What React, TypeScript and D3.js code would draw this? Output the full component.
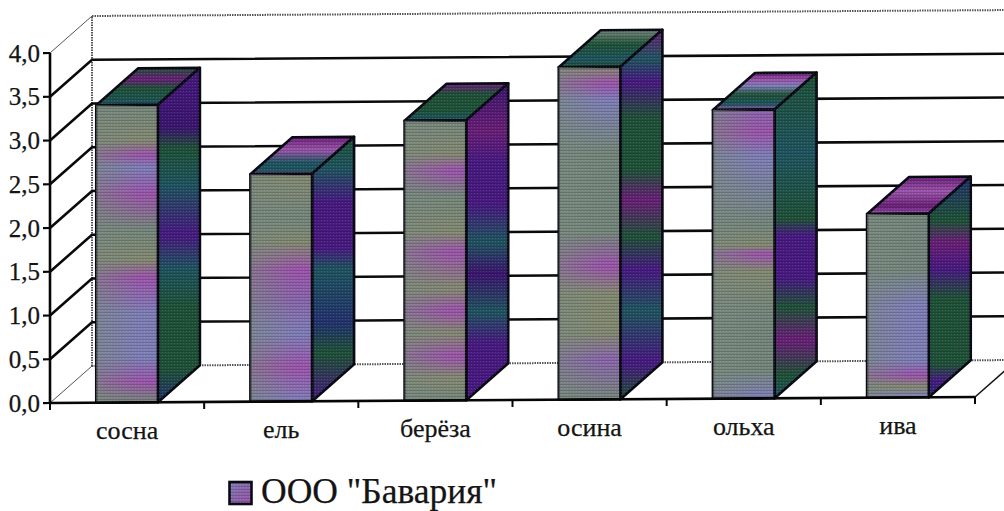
import React from "react";
import * as d3 from "d3";

const categories = ["сосна", "ель", "берёза", "осина", "ольха", "ива"];
const values = [3.4, 2.6, 3.2, 3.8, 3.3, 2.1];
const tickValues = [0, 0.5, 1, 1.5, 2, 2.5, 3, 3.5, 4];
const seriesName = 'ООО "Бавария"';

const G = "#75877c", G2 = "#838a72", M = "#9c55ac", V = "#7f7fb8", P = "#8a66ac";
const D = "#481a82", D2 = "#3c1670", T = "#1f5560", E = "#1f5238", B = "#23336f", R = "#6a1f78";

const frontStops = [
  [[0, G], [0.12, G2], [0.17, M], [0.21, V], [0.3, M], [0.42, G], [0.52, G2], [0.58, M], [0.7, V], [0.85, V], [0.93, M], [1, G]],
  [[0, G2], [0.2, G], [0.3, G2], [0.42, M], [0.55, P], [0.7, V], [0.85, M], [1, V]],
  [[0, G], [0.12, G2], [0.18, M], [0.27, G], [0.4, G2], [0.47, M], [0.6, G2], [0.68, M], [0.76, G2], [0.84, M], [0.92, G2], [1, G]],
  [[0, G2], [0.05, M], [0.1, V], [0.25, G], [0.5, G], [0.6, M], [0.68, G2], [0.8, G2], [0.88, P], [1, G]],
  [[0, P], [0.08, M], [0.16, V], [0.4, G], [0.47, G2], [0.5, M], [0.56, G2], [0.7, G], [0.9, G], [1, V]],
  [[0, G], [0.3, G], [0.5, V], [0.8, V], [0.88, M], [0.94, G2], [1, V]],
];
const sideStops = [
  [[0, D], [0.18, D2], [0.24, E], [0.35, T], [0.5, D], [0.6, T], [0.72, E], [0.9, E], [1, B]],
  [[0, E], [0.12, T], [0.25, D], [0.42, D], [0.5, T], [0.7, B], [0.82, E], [1, D]],
  [[0, D2], [0.15, R], [0.25, D], [0.38, D], [0.5, T], [0.6, D2], [0.72, T], [0.82, D], [1, D]],
  [[0, R], [0.08, T], [0.14, D], [0.24, E], [0.38, E], [0.46, R], [0.56, E], [0.65, D], [0.76, T], [0.9, D], [1, E]],
  [[0, E], [0.25, T], [0.45, E], [0.5, D], [0.63, D], [0.72, E], [0.82, R], [0.93, E], [1, T]],
  [[0, B], [0.2, E], [0.3, R], [0.42, D], [0.55, E], [0.85, E], [0.93, D], [1, B]],
];
const topStops = [
  [[0, E], [0.3, R], [0.55, E], [1, T]],
  [[0, R], [0.35, M], [0.7, T], [0.9, T], [1, M]],
  [[0, R], [0.3, E], [0.7, E], [1, T]],
  [[0, G], [0.4, E], [0.8, T], [1, E]],
  [[0, R], [0.2, M], [0.35, V], [0.6, E], [0.85, T], [1, M]],
  [[0, R], [0.4, M], [0.8, R], [1, M]],
];

const W = 1004, H = 511;
const x = d3.scaleBand<string>().domain(categories).range([50, 975]).paddingInner(0.6).paddingOuter(0.3);
const y = d3.scaleLinear().domain([0, 4]).range([403, 53]);
const xEdges = d3.scaleLinear().domain([0, 6]).range([50, 975]);
const depth = { dx: 42, dy: -37 };
const slope = 0.0065;

const pt = (px: number, v: number, back = 0): [number, number] => [
  px + depth.dx * back,
  y(v) - (px - 50) * slope + depth.dy * back,
];
const poly = d3.line();
const closed = (pts: [number, number][]) => poly(pts) + "Z";
const fmt = (v: number) => v.toFixed(1).replace(".", ",");
const stopEls = (s: any[]) => s.map(([o, c], i) => <stop key={i} offset={o} stopColor={c} />);

export default function App() {
  const a = "#0a0a14";
  return (
    <svg width={W} height={H} viewBox={`0 0 ${W} ${H}`} style={{ position: "absolute", left: 0, top: 0, background: "#fff" }} fontFamily="'Liberation Serif', serif">
      <defs>
        <pattern id="dither" width="3" height="3" patternUnits="userSpaceOnUse">
          <rect width="3" height="1" fill="#000" opacity="0.16" />
          <rect y="1" width="1" height="1" fill="#fff" opacity="0.12" />
        </pattern>
        <linearGradient id="edgeFade" x1="0" x2="1" y1="0" y2="0">
          <stop offset="0" stopColor="#7b8a80" stopOpacity="0.6" />
          <stop offset="0.7" stopColor="#7b8a80" stopOpacity="0" />
        </linearGradient>
        {categories.map((_, i) => (
          <React.Fragment key={i}>
            <linearGradient id={`front${i}`} x1="0" y1="0" x2="0" y2="1">{stopEls(frontStops[i])}</linearGradient>
            <linearGradient id={`side${i}`} x1="0" y1="0" x2="0" y2="1">{stopEls(sideStops[i])}</linearGradient>
            <linearGradient id={`top${i}`} x1="0" y1="0" x2="0" y2="1">{stopEls(topStops[i])}</linearGradient>
          </React.Fragment>
        ))}
        <linearGradient id="legendFill" x1="0" y1="0" x2="1" y2="1">
          <stop offset="0" stopColor={V} /><stop offset="0.5" stopColor={P} /><stop offset="1" stopColor={M} />
        </linearGradient>
      </defs>

      {/* walls and floor */}
      <g fill="none" stroke="#555" strokeWidth={1}>
        <path d={poly([pt(50, 0), pt(50, 0, 1)])!} />
        <path d={poly([pt(50, 4, 1), pt(50, 4)])!} />
        <path d={poly([pt(50, 4, 1), pt(975, 4, 1)])!} strokeWidth={2} strokeDasharray="1.5 1" />
        <path d={poly([pt(50, 0, 1), pt(975, 0, 1)])!} strokeWidth={2} strokeDasharray="1.5 1" />
        <path d={poly([pt(50, 0, 1), pt(50, 4, 1)])!} strokeWidth={2} strokeDasharray="1.5 1" />
        <path d={poly([pt(975, 0), pt(975, 0, 1)])!} stroke="#111" strokeWidth={1.5} />
      </g>

      {/* gridlines */}
      <g fill="none" stroke="#0a0a0a" strokeWidth={2.6}>
        {tickValues.filter((t) => t > 0 && t < 4).map((t) => (
          <path key={t} d={poly([pt(50, t), pt(50, t, 1), pt(975, t, 1)])!} />
        ))}
      </g>

      {/* bars */}
      {categories.map((c, i) => {
        const l = x(c)!, r = l + x.bandwidth(), v = values[i];
        const front = closed([pt(l, v), pt(r, v), pt(r, 0), pt(l, 0)]);
        const side = closed([pt(r, v), pt(r, v, 1), pt(r, 0, 1), pt(r, 0)]);
        const top = closed([pt(l, v), pt(l, v, 1), pt(r, v, 1), pt(r, v)]);
        return (
          <g key={c} stroke={a} strokeWidth={2.6} strokeLinejoin="round">
            <path d={top} fill={`url(#top${i})`} />
            <path d={side} fill={`url(#side${i})`} />
            <path d={front} fill={`url(#front${i})`} />
            <path d={front} fill="url(#edgeFade)" stroke="none" />
            <path d={front} fill="url(#dither)" stroke="none" />
            <path d={side} fill="url(#dither)" stroke="none" />
            <path d={top} fill="url(#dither)" stroke="none" />
          </g>
        );
      })}

      {/* axes */}
      <g fill="none" stroke="#060606">
        <path d={poly([pt(50, 0), pt(50, 4)])!} strokeWidth={2.6} />
        <path d={poly([pt(50, 0), pt(975, 0)])!} strokeWidth={2.6} />
        {tickValues.map((t) => (
          <path key={t} d={poly([pt(43, t), pt(50, t)])!} strokeWidth={2.2} />
        ))}
        {d3.range(7).map((k) => {
          const [tx, ty] = pt(xEdges(k), 0);
          return <path key={k} d={`M${tx},${ty}V${ty + 7}`} strokeWidth={2} />;
        })}
      </g>

      {/* labels */}
      <g fill="#141414" stroke="#141414" strokeWidth={0.25}>
        {tickValues.map((t) => (
          <text key={t} x={40} y={y(t) + 8.5} textAnchor="end" fontSize={25}>{fmt(t)}</text>
        ))}
        {categories.map((c) => {
          const cx = x(c)! + x.bandwidth() / 2;
          return <text key={c} x={cx} y={pt(cx, 0)[1] + 37} textAnchor="middle" fontSize={26}>{c}</text>;
        })}
        <text x={261} y={503} fontSize={35.5}>{seriesName}</text>
      </g>

      {/* legend */}
      <rect x={229.5} y={482} width={22} height={22} fill="url(#legendFill)" stroke={a} strokeWidth={2.6} />
      <rect x={229.5} y={482} width={22} height={22} fill="url(#dither)" />
    </svg>
  );
}
